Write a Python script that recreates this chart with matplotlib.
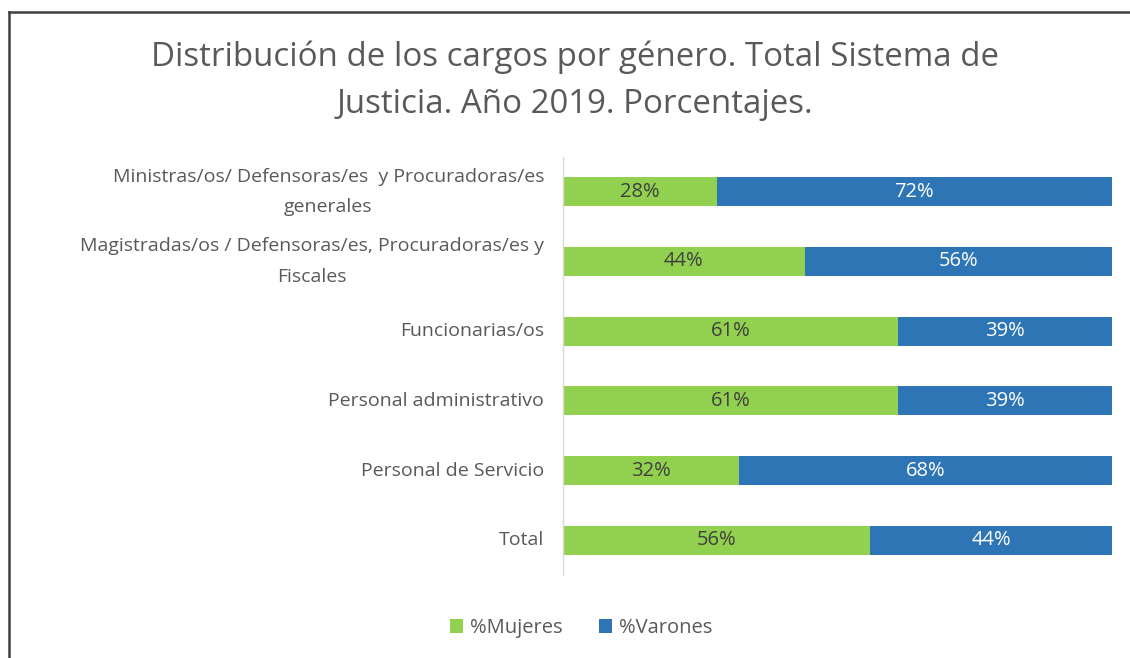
import matplotlib
matplotlib.use("Agg")
import matplotlib.pyplot as plt
from matplotlib.lines import Line2D

categories = [
    "Ministras/os/ Defensoras/es  y Procuradoras/es\ngenerales",
    "Magistradas/os / Defensoras/es, Procuradoras/es y\nFiscales",
    "Funcionarias/os",
    "Personal administrativo",
    "Personal de Servicio",
    "Total",
]
mujeres = [28, 44, 61, 61, 32, 56]
varones = [72, 56, 39, 39, 68, 44]
series_names = ["%Mujeres", "%Varones"]

GREEN = "#92D050"
BLUE = "#2E75B6"
TXT = "#595959"
FONT = ["Open Sans", "DejaVu Sans"]

plt.rcParams["font.family"] = FONT

fig = plt.figure(figsize=(11.3, 6.58), dpi=100)
ax = fig.add_axes([563/1130, 1-575/658, (1112-563)/1130, (575-157)/658])

y = list(range(len(categories)))
h = 0.42
b1 = ax.barh(y, mujeres, height=h, color=GREEN, label=series_names[0])
b2 = ax.barh(y, varones, left=mujeres, height=h, color=BLUE, label=series_names[1])

for i, (m, v) in enumerate(zip(mujeres, varones)):
    ax.text(m/2, i, f"{m}%", ha="center", va="center", color="#404040", fontsize=14.5)
    ax.text(m + v/2, i, f"{v}%", ha="center", va="center", color="white", fontsize=14.5)

ax.set_xlim(0, 100)
ax.set_ylim(len(categories)-0.5, -0.5)
ax.set_yticks(y)
ax.set_yticklabels(categories, fontsize=14, color=TXT, multialignment="center", linespacing=1.9)
for t in ax.get_yticklabels():
    t.set_va("center")
ax.tick_params(axis="y", length=0, pad=13.5)
ax.set_xticks([])
for s in ["top", "right", "bottom"]:
    ax.spines[s].set_visible(False)
ax.spines["left"].set_color("#D9D9D9")
ax.spines["left"].set_linewidth(1)

fig.text(575/1130, 1-81/658, "Distribución de los cargos por género. Total Sistema de\nJusticia. Año 2019. Porcentajes.",
         ha="center", va="center", fontsize=23.8, color=TXT, linespacing=1.55)

leg = fig.legend(handles=[b1, b2], labels=series_names, loc="center",
                 bbox_to_anchor=(581/1130, 1-628/658), ncol=2, frameon=False,
                 fontsize=14.5, handlelength=0.65, handleheight=0.65, handletextpad=0.35,
                 columnspacing=1.8)
for t in leg.get_texts():
    t.set_color(TXT)

# outer border (left and top)
fig.add_artist(Line2D([8.5/1130, 8.5/1130], [0, 1-11.5/658], transform=fig.transFigure, color="#404040", lw=1.8))
fig.add_artist(Line2D([8.5/1130, 1], [1-11.5/658, 1-11.5/658], transform=fig.transFigure, color="#404040", lw=1.8))

fig.savefig("out.png", dpi=100, facecolor="white")
